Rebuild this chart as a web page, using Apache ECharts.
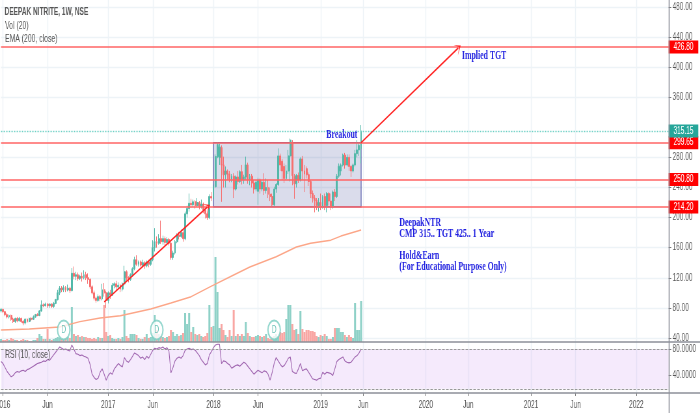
<!DOCTYPE html>
<html>
<head>
<meta charset="utf-8">
<title>Deepak Nitrite</title>
<script src="https://cdn.jsdelivr.net/npm/echarts@6/dist/echarts.min.js"></script>
<style>
  html, body { margin: 0; padding: 0; background: #fff; overflow: hidden; width: 700px; height: 413px; }
  #chart { height: 413px; transform-origin: 0 0; filter: blur(0.35px); }
</style>
</head>
<body>
<div id="chart"></div>
<script>
// the picture is squeezed sideways, text and the D circles too
const squeeze = 0.65;

const startWeek = '2015-12-28';
const weekCount = 331;

const tickLabels = {
  '2016-01-04': '2016', '2016-06-06': 'Jun',
  '2017-01-02': '2017', '2017-06-05': 'Jun',
  '2018-01-01': '2018', '2018-06-04': 'Jun',
  '2019-01-07': '2019', '2019-06-03': 'Jun',
  '2020-01-06': '2020', '2020-06-01': 'Jun',
  '2021-01-04': '2021', '2021-06-07': 'Jun',
  '2022-01-03': '2022'
};

const priceTicks = [40, 80, 120, 160, 200, 240, 280, 360, 400, 440, 480];
const rsiTicks = [40, 80];
const levels = [426.8, 299.65, 250.8, 214.2];
const lastPrice = 315.15;

// open, close, low, high, one row a week
const candles = [
  [76,78,74,80],[78,75,73,79],[75,71,69,76],[71,68,66,73],[68,70,66,71],[70,65,63,71],[65,62,60,67],[62,66,60,67],[66,63,61,68],[63,66,62,68],
  [66,62,60,67],[62,60,57,64],[60,65,58,66],[65,62,60,66],[62,66,61,67],[66,65,63,68],[65,68,64,70],[68,71,67,72],[71,70,69,73],[70,76,69,77],
  [76,84,75,90],[84,83,81,86],[83,85,82,87],[85,83,80,86],[83,85,80,86],[85,82,80,86],[82,86,80,88],[86,91,85,92],[91,100,90,104],[100,106,97,109],
  [106,104,101,109],[104,107,101,110],[107,104,101,109],[104,106,102,111],[106,103,100,108],[103,126,102,133],[126,122,118,135],[122,124,117,128],[124,119,116,127],[119,122,117,124],
  [122,120,115,127],[120,124,118,130],[124,120,117,128],[120,118,112,126],[118,108,105,119],[108,100,98,110],[100,93,90,103],[93,90,87,95],[90,95,88,98],[95,92,89,97],
  [92,104,90,112],[104,100,95,113],[100,90,80,102],[90,100,86,102],[100,97,92,104],[97,110,96,113],[110,112,106,114],[112,108,104,116],[108,110,105,114],[110,105,101,112],
  [105,112,102,114],[112,128,110,136],[128,120,116,130],[120,118,114,122],[118,124,116,126],[124,132,122,134],[132,144,130,148],[144,138,136,150],[138,141,135,143],[141,137,135,143],
  [137,140,133,144],[140,136,132,142],[136,141,134,143],[141,138,134,144],[138,144,136,146],[144,160,142,170],[160,168,155,186],[168,166,160,175],[166,172,164,178],[172,168,165,196],
  [168,172,164,176],[172,167,163,175],[167,171,165,174],[171,166,163,173],[166,147,144,168],[147,153,144,156],[153,168,151,170],[168,177,166,179],[177,175,171,181],[175,180,173,184],
  [180,172,168,184],[172,205,170,208],[205,212,200,216],[212,219,208,232],[219,217,213,225],[217,221,214,224],[221,216,212,223],[216,220,214,226],[220,215,211,222],[215,218,212,224],
  [218,210,206,220],[210,205,199,212],[205,200,197,208],[200,228,198,231],[228,226,222,234],[226,241,225,244],[241,281,240,284],[281,297,279,300],[280,294,270,298],[293,270,221,296],
  [270,257,240,281],[257,262,240,268],[262,258,250,264],[258,251,247,262],[251,255,247,258],[255,238,226,259],[238,254,236,256],[254,248,244,262],[248,261,246,263],[261,250,244,270],
  [250,254,245,257],[254,270,250,281],[270,250,245,273],[250,255,243,258],[255,246,240,258],[246,238,232,250],[238,247,235,250],[235,250,217,253],[250,238,232,252],[238,247,235,250],
  [247,236,230,259],[236,240,232,252],[240,231,226,250],[231,228,222,240],[228,217,215,232],[217,238,215,241],[238,244,233,246],[244,282,242,292],[282,270,262,285],[275,262,250,278],
  [268,252,246,272],[252,262,250,270],[262,282,258,290],[282,303,248,305],[300,256,243,303],[255,245,225,258],[245,256,240,258],[256,250,246,260],[250,278,248,280],[278,262,250,282],
  [262,258,234,270],[265,257,252,268],[257,248,242,260],[248,232,226,250],[232,226,220,236],[226,223,207,230],[223,216,210,226],[216,220,208,226],[220,214,210,232],[214,228,212,230],
  [228,216,210,232],[216,232,207,234],[232,222,216,234],[222,214,210,232],[214,234,212,236],[234,228,222,238],[228,255,226,258],[255,268,253,272],[262,270,256,272],[270,283,268,285],
  [283,270,265,286],[270,280,268,284],[280,268,262,284],[268,262,254,270],[262,270,260,272],[270,285,268,290],[285,290,280,303],[290,296,282,300],[292,315.15,272,323]
];

// only relative heights can be read, there is no volume scale
const volumes = [
  3,2,2,3,2,4,3,2,2,1,
  2,3,2,2,1,1,2,2,4,8,
  6,3,3,13,3,2,3,4,5,4,
  3,3,4,5,4,35,8,6,7,5,
  6,5,5,4,4,3,4,3,5,4,
  4,37,10,6,7,4,3,3,4,3,
  5,32,6,4,8,8,8,7,4,3,
  3,5,8,4,5,9,27,12,8,6,
  5,4,5,6,12,10,6,8,6,7,
  9,29,18,29,10,15,8,7,8,6,
  5,6,9,37,15,16,85,50,14,18,
  12,7,5,12,6,32,6,8,6,8,
  6,20,9,6,5,5,6,7,6,5,
  6,8,4,3,5,6,8,6,10,9,
  10,23,37,37,18,12,13,8,31,13,
  10,12,12,11,11,10,6,5,7,6,
  8,6,3,3,5,14,14,14,10,10,
  7,5,7,5,4,39,12,12,41
];

const rsiValues = [
  61,58,52,46,42,38,40,44,46,45,
  47,48,46,49,50,52,54,56,58,59,
  60,62,61,64,63,67,71,75,79,83,
  81,79,80,78,77,86,80,73,72,70,
  71,69,68,66,57,42,37,34,36,45,
  50,42,33,40,44,42,50,54,58,55,
  53,67,62,60,64,69,74,72,70,66,
  68,64,69,66,72,78,81,80,82,81,
  83,80,82,77,44,52,62,66,68,66,
  70,78,80,81,79,80,78,74,70,64,
  60,56,58,71,76,82,86,87,87,58,
  62,61,58,56,51,53,55,56,54,57,
  60,58,54,50,46,42,45,48,46,44,
  47,46,42,33,44,58,67,62,57,53,
  55,60,66,68,46,44,43,50,58,47,
  49,50,45,40,35,34,33,35,36,45,
  42,45,44,43,40,50,61,64,66,68,
  62,60,59,60,64,68,70,74,80
];

const emaWeeks = [0, 14, 29, 39, 49, 59, 74, 84, 94, 104, 115, 123, 136, 146, 153, 163, 168, 178];
const emaValues = [50.6, 52, 54.6, 61.8, 66.6, 69.6, 78.5, 86.5, 94.9, 109, 123.7, 134.4, 148, 161, 166, 170, 175.5, 183.5];

const dividendWeeks = [31, 77, 135];

// week, price of both ends
const arrows = [
  [[51, 88], [102, 214]],
  [[178, 299.65], [226, 425.5]]
];
const boxFrom = [105, 299.65];
const boxTo = [178, 214.2];

const categories = [];
for (let i = 0; i < weekCount; i++) {
  const d = new Date(Date.parse(startWeek + 'T00:00:00Z') + i * 7 * 864e5);
  categories.push(d.toISOString().slice(0, 10));
}

const teal = '#52b8a9', red = '#f76f6f';
const labelFont = '"Liberation Sans"';
const sx = x => x / squeeze;
const W = 700 / squeeze;

const chartDom = document.getElementById('chart');
chartDom.style.width = W + 'px';
chartDom.style.transform = 'scaleX(' + squeeze + ')';
const chart = echarts.init(chartDom, null, { width: W, height: 413 });

const isTick = (index, value) => tickLabels[value] !== undefined;
const gridLine = { lineStyle: { color: '#edf3f7', width: 1.4 } };

function xAxisFor(gridIndex, showLabels) {
  return {
    type: 'category', gridIndex: gridIndex, data: categories, boundaryGap: false,
    axisLine: { show: false },
    axisTick: { show: showLabels, interval: isTick, length: 3, lineStyle: { color: '#777' } },
    axisLabel: {
      show: showLabels, interval: isTick, margin: 7,
      color: '#555', fontFamily: labelFont, fontSize: 10,
      formatter: v => tickLabels[v] || ''
    },
    splitLine: { show: gridIndex !== 1, interval: isTick, ...gridLine }
  };
}

const blueText = (text, x, y) => ({
  type: 'text', x: sx(x), y: y, z: 20, silent: true,
  style: { text: text, fill: '#1f1fe0', font: 'bold 12px "Liberation Serif"', lineHeight: 11, textVerticalAlign: 'top' }
});
const greyText = (text, x, y, weight, size) => ({
  type: 'text', x: sx(x), y: y, z: 20, silent: true,
  style: { text: text, fill: '#555', font: weight + ' ' + size + 'px ' + labelFont, textVerticalAlign: 'middle' }
});
const frameLine = (x1, y1, x2, y2) => ({
  type: 'line', z: 15, silent: true,
  shape: { x1: sx(x1), y1: y1, x2: sx(x2), y2: y2 },
  style: { stroke: '#8c8f99', lineWidth: 1.5 }
});

const axisValueLabel = {
  position: 'end', distance: 0, color: '#fff',
  fontFamily: labelFont, fontSize: 10, padding: [1.5, 7.5],
  formatter: p => p.value.toFixed(2)
};

const option = {
  animation: false,
  backgroundColor: '#fff',
  grid: [
    { left: sx(1), right: sx(32), top: 0, height: 342, outerBoundsMode: 'none' },
    { left: sx(1), right: sx(32), top: 242, height: 100, outerBoundsMode: 'none' },
    { left: sx(1), right: sx(32), top: 342, height: 51, outerBoundsMode: 'none' }
  ],
  xAxis: [xAxisFor(0, false), xAxisFor(1, false), xAxisFor(2, true)],
  yAxis: [
    {
      type: 'value', gridIndex: 0, position: 'right', min: 34.7, max: 489.2, scale: true,
      axisLine: { show: false },
      axisTick: { show: true, length: 4, customValues: priceTicks, lineStyle: { color: '#777' } },
      axisLabel: { margin: 6, color: '#555', fontFamily: labelFont, fontSize: 10, customValues: priceTicks, formatter: v => v.toFixed(2) },
      splitLine: gridLine
    },
    { type: 'value', gridIndex: 1, min: 0, max: 100, show: false },
    {
      type: 'value', gridIndex: 2, position: 'right', min: 13.6, max: 90.5, scale: true,
      axisLine: { show: false },
      axisTick: { show: true, length: 4, customValues: rsiTicks, lineStyle: { color: '#777' } },
      axisLabel: { margin: 6, color: '#555', fontFamily: labelFont, fontSize: 10, customValues: rsiTicks, formatter: v => v.toFixed(4) },
      splitLine: { show: false }
    }
  ],
  series: [
    {
      name: 'Vol', type: 'bar', xAxisIndex: 1, yAxisIndex: 1, z: 1, barWidth: 3, silent: true,
      data: volumes.map((v, i) => ({
        value: v,
        itemStyle: { color: candles[i][1] >= candles[i][0] ? '#8ed1c7' : '#f9a6a3' }
      }))
    },
    {
      name: 'EMA', type: 'line', xAxisIndex: 0, yAxisIndex: 0, z: 2, showSymbol: false, silent: true,
      lineStyle: { color: '#fca688', width: 1.4 },
      data: emaWeeks.map((w, i) => [w, emaValues[i]])
    },
    {
      name: 'DEEPAK NITRITE', type: 'candlestick', xAxisIndex: 0, yAxisIndex: 0, z: 3, barWidth: 2.4, silent: true,
      itemStyle: { color: teal, color0: red, borderColor: teal, borderColor0: red, borderWidth: 1 },
      data: candles
    },
    {
      name: 'levels', type: 'line', xAxisIndex: 0, yAxisIndex: 0, z: 4, data: [], silent: true,
      markLine: {
        silent: true, symbol: 'none', animation: false,
        lineStyle: { color: '#ff6464', width: 1.5, type: 'solid' },
        label: { ...axisValueLabel, backgroundColor: '#ff0000' },
        data: levels.map(v => ({ yAxis: v }))
      }
    },
    {
      name: 'last', type: 'line', xAxisIndex: 0, yAxisIndex: 0, z: 4, data: [], silent: true,
      markLine: {
        silent: true, symbol: 'none', animation: false,
        lineStyle: { color: '#6cd0c4', width: 1.4, type: [2, 2] },
        label: { ...axisValueLabel, backgroundColor: '#26a69a' },
        data: [{ yAxis: lastPrice }]
      }
    },
    {
      name: 'box', type: 'line', xAxisIndex: 0, yAxisIndex: 0, z: 5, data: [], silent: true,
      markArea: {
        silent: true, animation: false,
        itemStyle: { color: 'rgba(50,60,145,0.18)', borderColor: '#5458a8', borderWidth: 1.2 },
        data: [[{ coord: boxFrom }, { coord: boxTo }]]
      }
    },
    {
      name: 'arrows', type: 'line', xAxisIndex: 0, yAxisIndex: 0, z: 6, data: [], silent: true,
      markLine: {
        silent: true, animation: false,
        symbol: ['none', 'path://M5 0 L10 10 L5 3 L0 10 Z'], symbolSize: [12, 9],
        lineStyle: { color: '#ff2222', width: 1.7, type: 'solid' },
        label: { show: false },
        data: arrows.map(a => [{ coord: a[0] }, { coord: a[1] }])
      }
    },
    {
      name: 'dividends', type: 'scatter', xAxisIndex: 1, yAxisIndex: 1, z: 7, symbolSize: 19, silent: true,
      itemStyle: { color: '#fff', borderColor: '#79cdc2', borderWidth: 2 },
      label: { show: true, position: 'inside', formatter: 'D', color: '#45b3a5', fontFamily: labelFont, fontSize: 10 },
      data: dividendWeeks.map(w => [w, 12])
    },
    {
      name: 'RSI', type: 'line', xAxisIndex: 2, yAxisIndex: 2, z: 4, showSymbol: false, silent: true,
      lineStyle: { color: '#a066b0', width: 1.1 },
      data: rsiValues,
      markArea: {
        silent: true, animation: false,
        itemStyle: { color: 'rgba(205,150,240,0.2)' },
        data: [[{ yAxis: 80 }, { yAxis: 20 }]]
      },
      markLine: {
        silent: true, symbol: 'none', animation: false, label: { show: false },
        lineStyle: { color: '#999', width: 1, type: 'dashed' },
        data: [{ yAxis: 80 }, { yAxis: 20 }]
      }
    }
  ],
  graphic: [
    frameLine(668.5, 0, 668.5, 413),
    frameLine(0, 342, 700, 342),
    frameLine(0, 393, 700, 393),
    greyText('DEEPAK NITRITE, 1W, NSE', 4.5, 12.5, 'bold', 10),
    greyText('Vol (20)', 5, 26, 'normal', 10.5),
    greyText('EMA (200, close)', 5, 39, 'normal', 10.5),
    greyText('RSI (10, close)', 5, 355, 'normal', 10.5),
    blueText('Implied TGT', 461.5, 50),
    blueText('Breakout', 326, 129),
    blueText('DeepakNTR\nCMP 315.. TGT 425.. 1 Year\n\nHold&Earn\n(For Educational Purpose Only)', 399, 217)
  ]
};

chart.setOption(option);
</script>
</body>
</html>
